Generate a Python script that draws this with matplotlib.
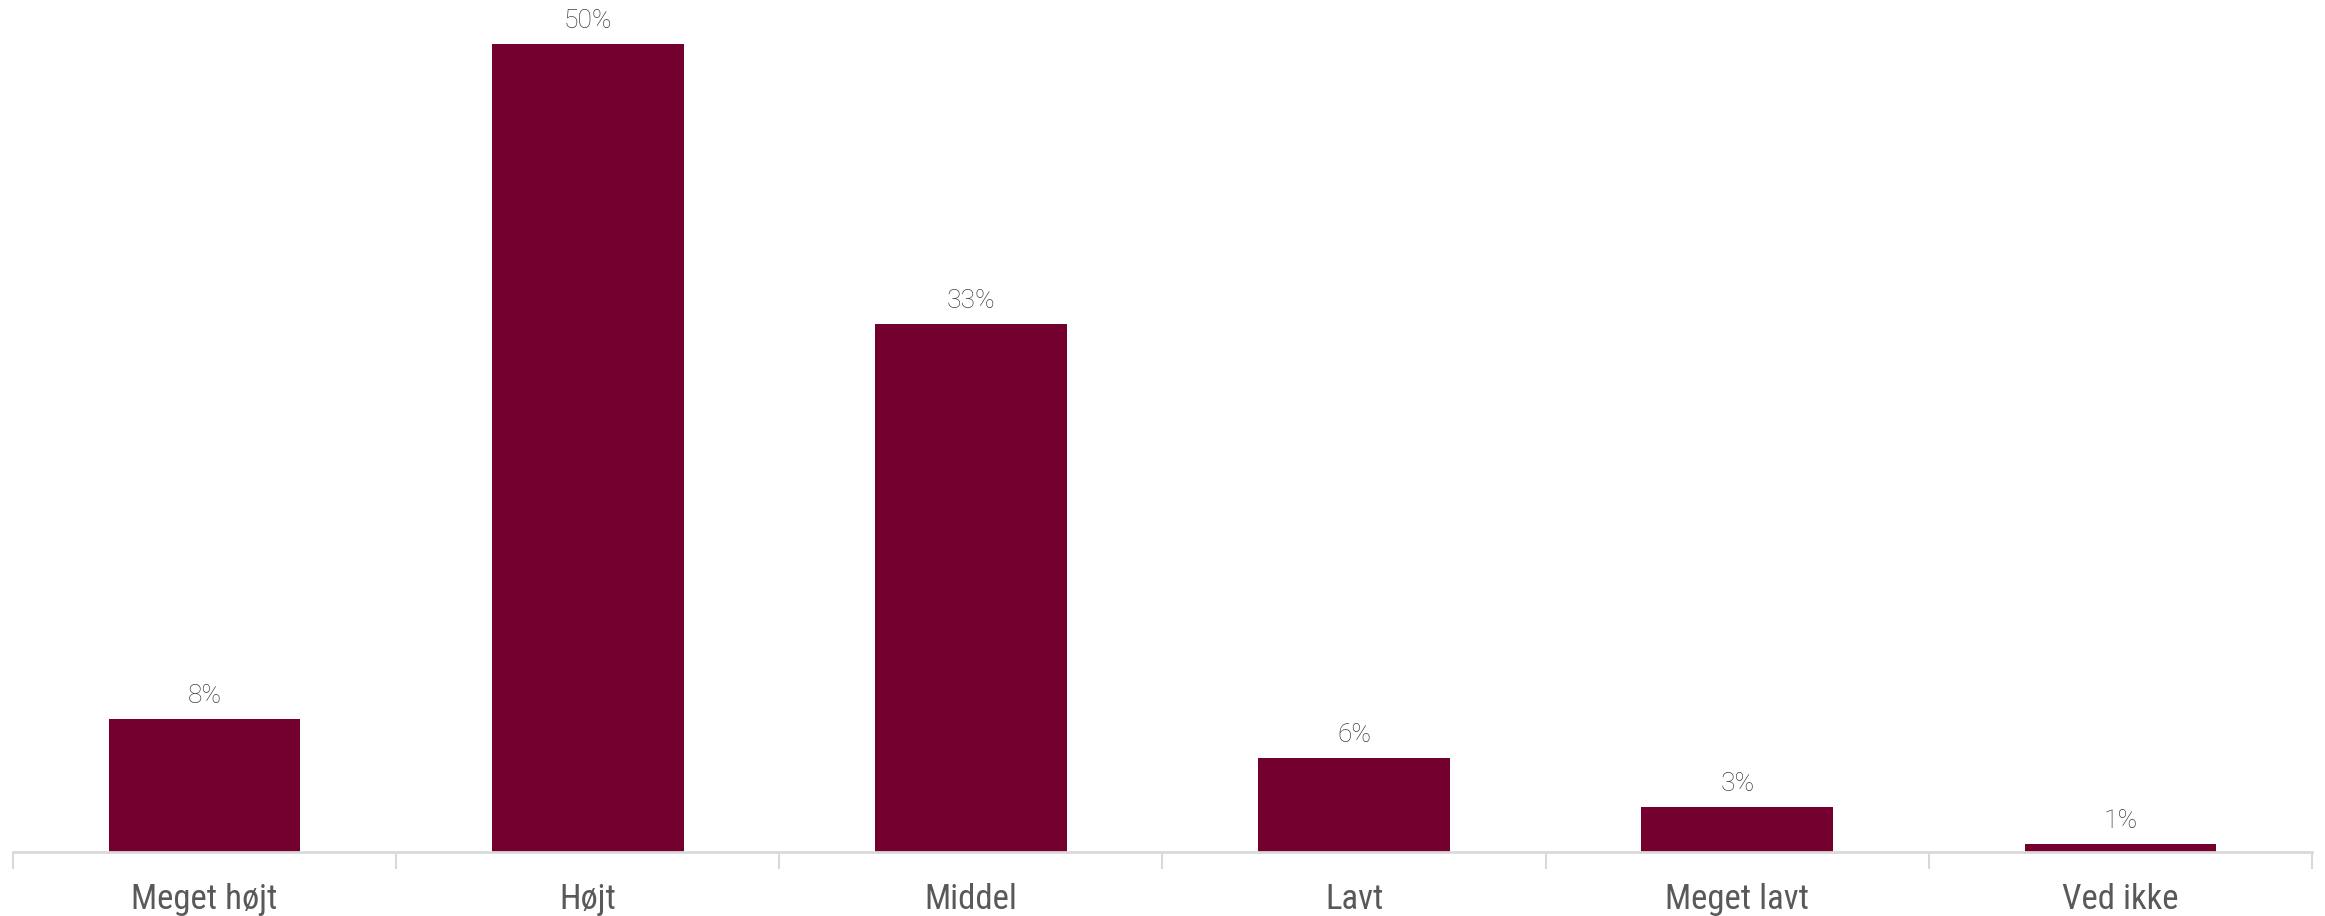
import matplotlib.pyplot as plt
from matplotlib.ticker import FixedLocator
from matplotlib import font_manager

categories = ["Meget højt", "Højt", "Middel", "Lavt", "Meget lavt", "Ved ikke"]
values = [8.2, 50.0, 32.7, 5.8, 2.8, 0.5]
labels = ["8%", "50%", "33%", "6%", "3%", "1%"]

bar_color = "#73002e"
text_color = "#595959"
axis_color = "#d9d9d9"

installed = {f.name for f in font_manager.fontManager.ttflist}
narrow = [n for n in ["Liberation Sans Narrow", "Roboto Condensed", "Roboto"] if n in installed]
tick_family = narrow[:1] + ["DejaVu Sans"]

fig = plt.figure(figsize=(23.25, 9.16), dpi=100)
ax = fig.add_axes([0.0056, 0.0699, 0.9888, 0.9301])

x = list(range(len(categories)))
bars = ax.bar(x, values, width=0.5, color=bar_color, zorder=2)

for rect, lab in zip(bars, labels):
    ax.annotate(lab, (rect.get_x() + rect.get_width() / 2, rect.get_height()),
                xytext=(0, 11), textcoords="offset pixels", ha="center", va="bottom",
                fontsize=19, color="#404040", family=["Roboto", "DejaVu Sans"],
                fontweight="light")

ax.set_xlim(-0.5, len(categories) - 0.5)
ax.set_ylim(0, 52.72)

ax.set_xticks(x)
ax.set_xticklabels(categories, fontsize=25, color=text_color, family=tick_family)
ax.tick_params(axis="x", which="major", length=0, pad=22)
ax.xaxis.set_minor_locator(FixedLocator([i - 0.5 for i in range(len(categories) + 1)]))
ax.tick_params(axis="x", which="minor", length=12, width=1.5, color=axis_color)

ax.set_yticks([])
for side in ["top", "right", "left"]:
    ax.spines[side].set_visible(False)
ax.spines["bottom"].set_color(axis_color)
ax.spines["bottom"].set_linewidth(2)

fig.savefig("out.png", dpi=100)
